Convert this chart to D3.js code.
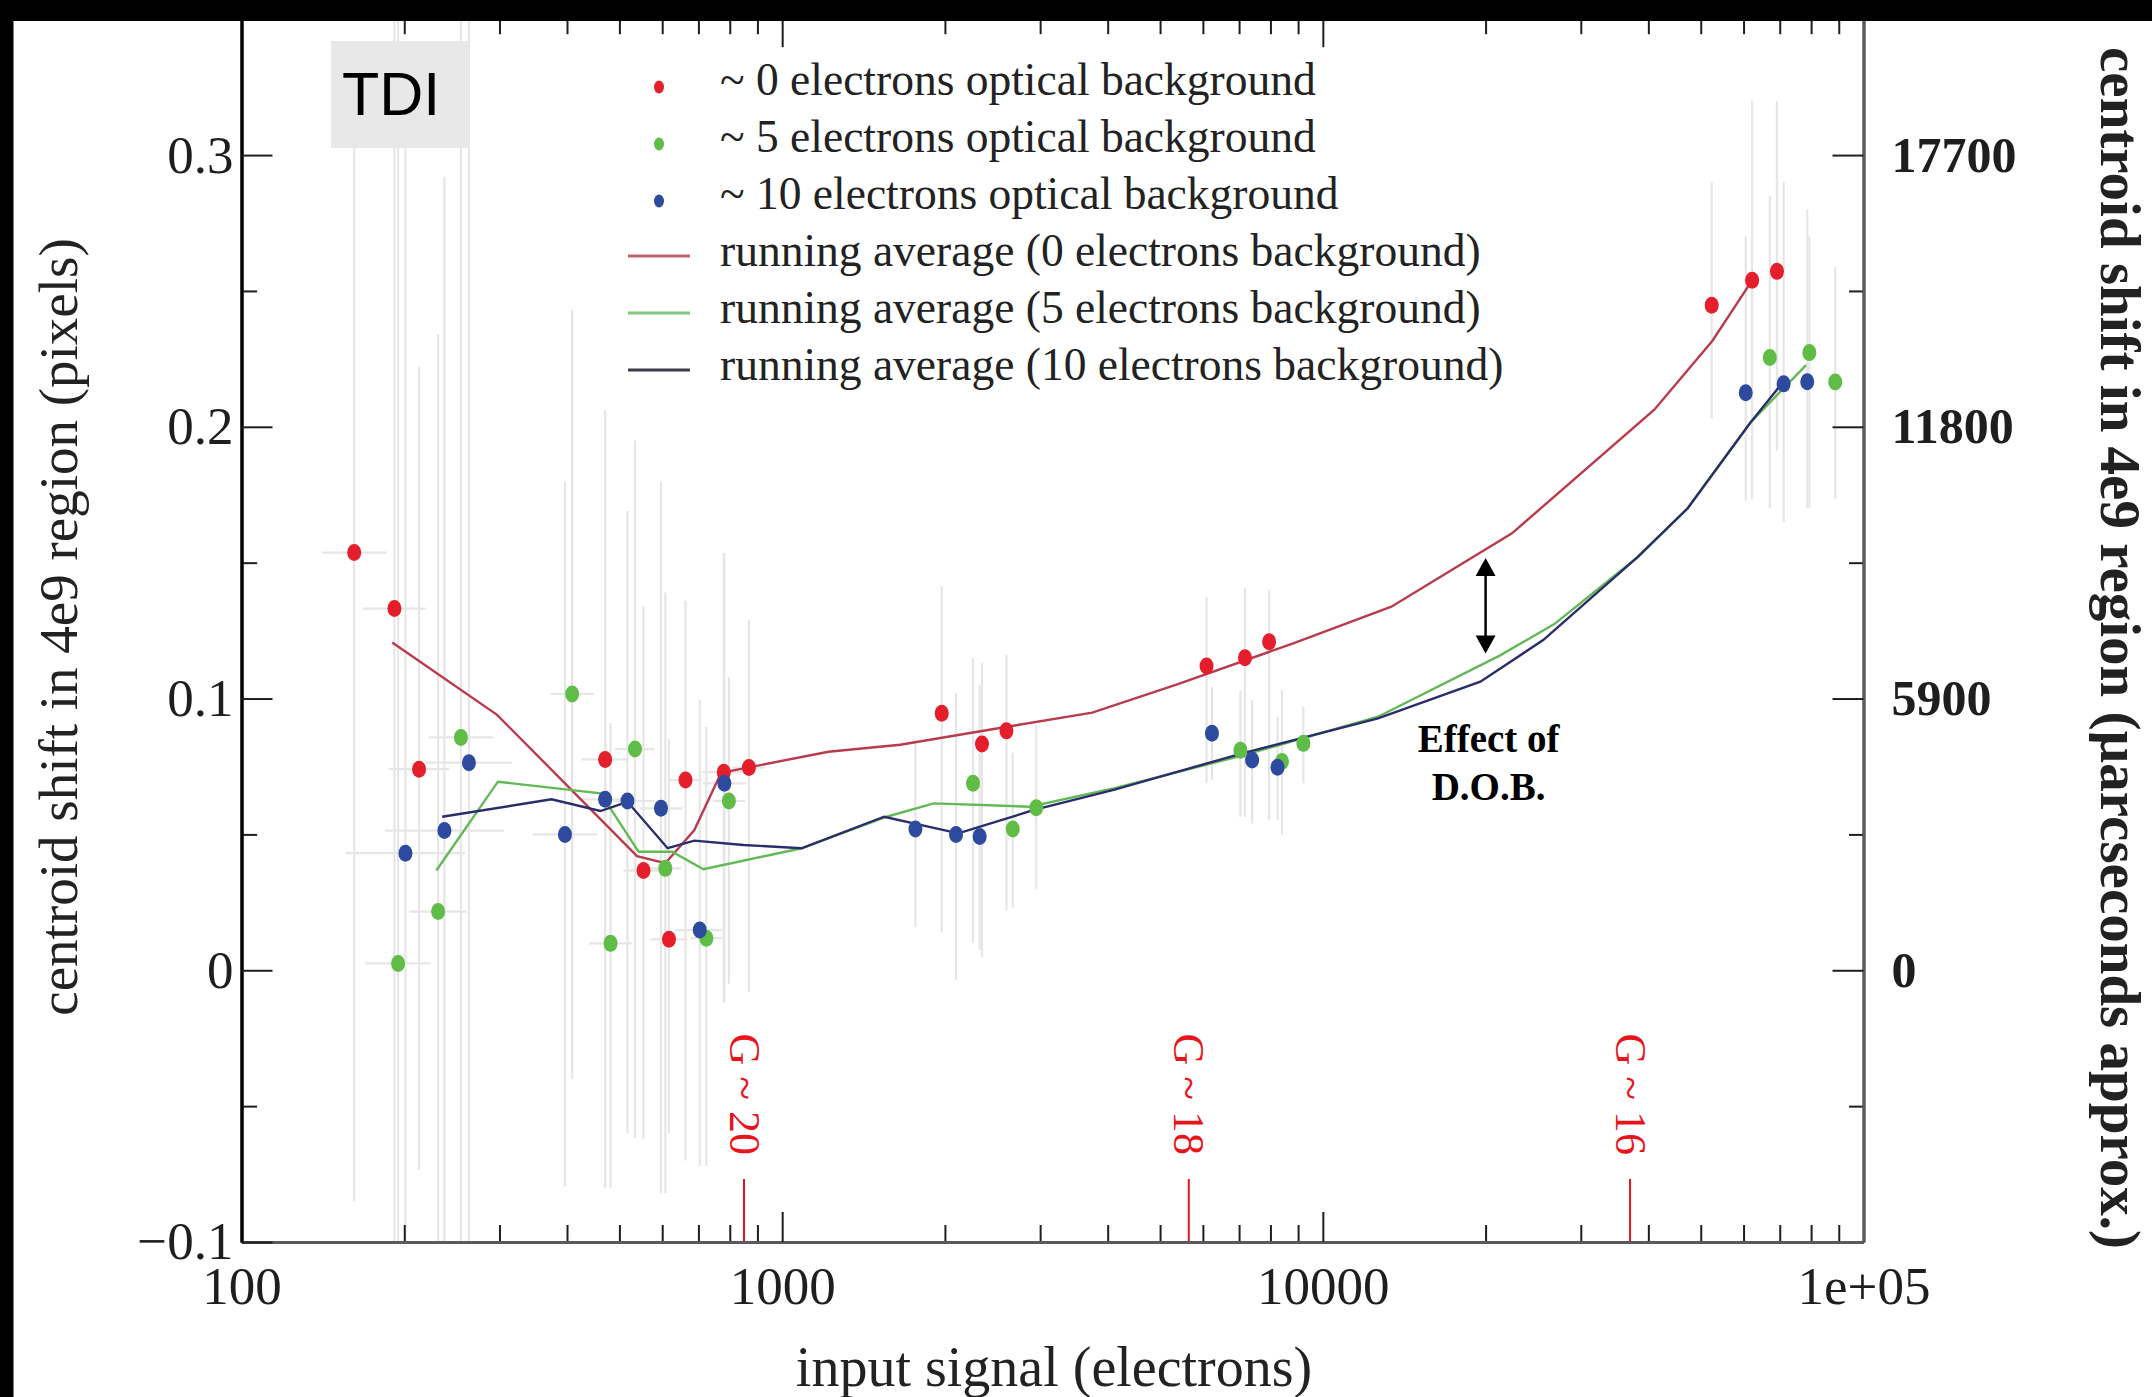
<!DOCTYPE html>
<html>
<head>
<meta charset="utf-8">
<script src="https://cdn.jsdelivr.net/npm/d3@7"></script>
<style>
  html, body { margin: 0; padding: 0; background: #fff; }
  svg { display: block; }
</style>
</head>
<body>
<script>
// each point: [input signal (e-), centroid shift (px), error low, error high, x error (dex)]
var bg0Points = [
  [161.6, 0.1537, -0.085, 0.33, 0.06], [191.8, 0.1331, -0.11, 0.36, 0.058],
  [213, 0.074, -0.0735, 0.222, 0.056], [470.5, 0.0776, -0.08, 0.206, 0.044],
  [554, 0.0367, -0.062, 0.134, 0.037], [617.5, 0.0114, -0.06, 0.085, 0.034],
  [662.6, 0.070, -0.07, 0.136, 0.03], [780, 0.0729, -0.012, 0.1535, 0.04],
  [868, 0.0746, -0.008, 0.129, 0.03], [1973, 0.0946, 0.0142, 0.1412, 0],
  [2342, 0.0833, 0.005, 0.113, 0], [2599, 0.0881, 0.022, 0.116, 0],
  [6094, 0.112, 0.0688, 0.1375, 0], [7178, 0.115, 0.0565, 0.1407, 0],
  [7955, 0.1209, 0.0553, 0.140, 0], [52390, 0.2447, 0.203, 0.29, 0],
  [62230, 0.2539, 0.1734, 0.32, 0], [69180, 0.2572, 0.191, 0.32, 0]
];
var bg5Points = [
  [194.8, 0.0025, -0.11, 0.36, 0.06], [231, 0.0216, -0.11, 0.234, 0.053],
  [254.6, 0.0857, -0.11, 0.36, 0.06], [408.8, 0.1017, -0.04, 0.243, 0.04],
  [481.5, 0.0099, -0.08, 0.091, 0.04], [534.3, 0.0814, -0.0617, 0.195, 0.037],
  [608, 0.0375, -0.082, 0.139, 0.03], [724, 0.0118, -0.072, 0.0895, 0.03],
  [797, 0.0623, -0.005, 0.108, 0.03], [2254, 0.0688, 0.01, 0.115, 0],
  [2670, 0.052, 0.023, 0.08, 0], [2951, 0.0598, 0.03, 0.09, 0],
  [7040, 0.081, 0.0565, 0.103, 0], [8403, 0.0768, 0.05, 0.103, 0],
  [9205, 0.0835, 0.0688, 0.097, 0], [67100, 0.2255, 0.170, 0.285, 0],
  [79400, 0.2273, 0.170, 0.270, 0], [88660, 0.2165, 0.1734, 0.2588, 0]
];
var bg10Points = [
  [201, 0.0431, -0.11, 0.34, 0.11], [237.3, 0.0514, -0.11, 0.292, 0.11],
  [263.4, 0.0764, -0.11, 0.36, 0.08], [396.5, 0.050, -0.0796, 0.18, 0.06],
  [470.5, 0.0629, -0.08, 0.206, 0.05], [517.4, 0.0623, -0.06, 0.169, 0.05],
  [596.8, 0.0596, -0.082, 0.18, 0.04], [704, 0.0148, -0.072, 0.0995, 0.045],
  [781.8, 0.0688, -0.012, 0.1535, 0.04], [1764, 0.052, 0.016, 0.085, 0],
  [2097, 0.050, -0.0036, 0.102, 0], [2319, 0.0492, 0.0075, 0.105, 0],
  [6236, 0.0872, 0.07, 0.1044, 0], [7400, 0.0774, 0.054, 0.0995, 0],
  [8246, 0.0747, 0.0553, 0.0933, 0], [60560, 0.2125, 0.173, 0.27, 0],
  [71170, 0.2158, 0.165, 0.29, 0], [78700, 0.2166, 0.17, 0.28, 0]
];

// running averages: [input signal, centroid shift]
var bg0Avg = [
  [190, 0.1206], [297, 0.094], [539, 0.042], [608, 0.0394], [688, 0.0516],
  [771, 0.0727], [1218, 0.0804], [1653, 0.083], [2608, 0.0896], [3746, 0.0948],
  [5378, 0.1052], [8815, 0.1203], [13390, 0.1338], [22380, 0.1608],
  [41030, 0.2063], [52560, 0.2317], [62230, 0.2539]
];
var bg5Avg = [
  [229.3, 0.0367], [298, 0.0694], [461.5, 0.0651], [542.7, 0.0436], [626, 0.0436],
  [715, 0.0372], [1086, 0.0449], [1560, 0.0565], [1907, 0.0614], [2871, 0.0602],
  [4120, 0.067], [7150, 0.0792], [12650, 0.0933], [21280, 0.1159], [26800, 0.1274],
  [38200, 0.152], [47300, 0.170], [61700, 0.2014], [78300, 0.2227]
];
var bg10Avg = [
  [235, 0.0565], [374.5, 0.0629], [461, 0.0586], [517.6, 0.062], [614, 0.0449],
  [688, 0.0477], [848, 0.0461], [1086, 0.0449], [1544, 0.0565], [2117, 0.0504],
  [2924, 0.059], [4120, 0.0665], [7150, 0.080], [12650, 0.0927], [19560, 0.1062],
  [25560, 0.1215], [38200, 0.152], [47300, 0.170], [61700, 0.2014], [71000, 0.2165]
];

var xTicks = [100, 1000, 10000, 100000];
var xTickLabels = ["100", "1000", "10000", "1e+05"];
var xMinorTicks = [200, 300, 400, 500, 600, 700, 800, 900,
                   2000, 3000, 4000, 5000, 6000, 7000, 8000, 9000,
                   20000, 30000, 40000, 50000, 60000, 70000, 80000, 90000];
var yTicks = [-0.1, 0, 0.1, 0.2, 0.3];
var yTickLabels = ["\u22120.1", "0", "0.1", "0.2", "0.3"];
var yMinorTicks = [-0.05, 0.05, 0.15, 0.25];
var rightTicks = [0, 5900, 11800, 17700];
var rightTickLabels = ["0", "5900", "11800", "17700"];
var rightMinorTicks = [-2950, 2950, 8850, 14750];

var gSignals = [850, 5650, 37000];
var gLabels = ["G ~ 20", "G ~ 18", "G ~ 16"];

var legendLabels = [
  "~ 0 electrons optical background",
  "~ 5 electrons optical background",
  "~ 10 electrons optical background",
  "running average (0 electrons background)",
  "running average (5 electrons background)",
  "running average (10 electrons background)"
];

// ==============================================================================

var width = 2152, height = 1397;
var serif = "'Liberation Serif', 'Times New Roman', serif";
var pointColors = ["#e41f2b", "#5fbd47", "#2d4a9e"];
var lineColors = ["#b83b4e", "#62b956", "#2b2d6b"];
var legendLineColors = ["#c4606e", "#80c67c", "#3b3b4a"];

var x = d3.scaleLog().domain([100, 1e5]).range([241.5, 1863.5]);
var y = d3.scaleLinear().domain([-0.1, 0.35]).range([1242, 19.2]);
var yR = d3.scaleLinear().domain([-5900, 20650]).range([1242, 19.2]);

var svg = d3.select("body").append("svg")
    .attr("width", width)
    .attr("height", height);

svg.append("rect").attr("width", width).attr("height", height).attr("fill", "#fff");

svg.append("clipPath").attr("id", "plot")
  .append("rect")
    .attr("x", x.range()[0]).attr("y", y.range()[1])
    .attr("width", x.range()[1] - x.range()[0])
    .attr("height", y.range()[0] - y.range()[1]);

var plot = svg.append("g").attr("clip-path", "url(#plot)");

var series = [bg0Points, bg5Points, bg10Points];
var averages = [bg0Avg, bg5Avg, bg10Avg];

// error bars
series.forEach(pts => {
  plot.append("g").selectAll("line.v")
      .data(pts)
    .enter().append("line")
      .attr("x1", d => x(d[0])).attr("x2", d => x(d[0]))
      .attr("y1", d => y(d[2])).attr("y2", d => y(d[3]))
      .attr("stroke", "#e6e6e6").attr("stroke-width", 2.2);
  plot.append("g").selectAll("line.h")
      .data(pts.filter(d => d[4] > 0))
    .enter().append("line")
      .attr("x1", d => x(d[0] / Math.pow(10, d[4])))
      .attr("x2", d => x(d[0] * Math.pow(10, d[4])))
      .attr("y1", d => y(d[1])).attr("y2", d => y(d[1]))
      .attr("stroke", "#e6e6e6").attr("stroke-width", 2.2);
});

// running averages
var line = d3.line().x(d => x(d[0])).y(d => y(d[1]));
averages.forEach((avg, i) => {
  plot.append("path")
      .datum(avg)
      .attr("d", line)
      .attr("fill", "none")
      .attr("stroke", lineColors[i])
      .attr("stroke-width", 2.4);
});

// points
series.forEach((pts, i) => {
  plot.append("g").selectAll("ellipse")
      .data(pts)
    .enter().append("ellipse")
      .attr("cx", d => x(d[0]))
      .attr("cy", d => y(d[1]))
      .attr("rx", 7).attr("ry", 8.5)
      .attr("fill", pointColors[i]);
});

// G magnitude markers
gSignals.forEach((s, i) => {
  svg.append("line")
      .attr("x1", x(s)).attr("x2", x(s))
      .attr("y1", y(-0.1)).attr("y2", y(-0.0768))
      .attr("stroke", "#e8141c").attr("stroke-width", 2);
  svg.append("text")
      .attr("transform", "translate(" + x(s) + "," + y(-0.0456) + ") rotate(90)")
      .attr("text-anchor", "middle")
      .attr("dominant-baseline", "central")
      .attr("font-family", serif)
      .attr("font-size", 44)
      .attr("fill", "#e8141c")
      .text(gLabels[i]);
});

// effect of D.O.B. annotation
var ax = x(20000);
svg.append("line")
    .attr("x1", ax).attr("x2", ax)
    .attr("y1", y(0.149)).attr("y2", y(0.119))
    .attr("stroke", "#000").attr("stroke-width", 2.5);
svg.append("path")
    .attr("d", "M" + ax + "," + y(0.1517) + "l-10,18h20z")
    .attr("fill", "#000");
svg.append("path")
    .attr("d", "M" + ax + "," + y(0.1166) + "l-10,-18h20z")
    .attr("fill", "#000");
["Effect of", "D.O.B."].forEach((t, i) => {
  svg.append("text")
      .attr("x", ax + 3)
      .attr("y", y(0.085) + 13 + i * 48)
      .attr("text-anchor", "middle")
      .attr("font-family", serif)
      .attr("font-weight", "bold")
      .attr("font-size", 39)
      .attr("fill", "#000")
      .text(t);
});

// axes
function styleAxis(g, domainColor, domainWidth) {
  g.attr("font-family", serif).attr("color", "#1e1e1e");
  g.select(".domain").attr("stroke", domainColor).attr("stroke-width", domainWidth);
  g.selectAll(".tick line").attr("stroke-width", 2);
}

svg.append("g")
    .attr("transform", "translate(0," + y.range()[1] + ")")
    .call(d3.axisTop(x).tickValues(xTicks).tickSize(-28).tickSizeOuter(0).tickFormat(""))
    .call(g => styleAxis(g, "#333", 2.5));
svg.append("g")
    .attr("transform", "translate(0," + y.range()[1] + ")")
    .call(d3.axisTop(x).tickValues(xMinorTicks).tickSize(-15).tickSizeOuter(0).tickFormat(""))
    .call(g => styleAxis(g, "#333", 2.5));

svg.append("g")
    .attr("transform", "translate(0," + y.range()[0] + ")")
    .call(d3.axisBottom(x).tickValues(xMinorTicks).tickSize(-17).tickSizeOuter(0).tickFormat(""))
    .call(g => styleAxis(g, "#5a5a5a", 3));
svg.append("g")
    .attr("transform", "translate(0," + y.range()[0] + ")")
    .call(d3.axisBottom(x).tickValues(xTicks).tickSize(-30).tickSizeOuter(0).tickPadding(24)
      .tickFormat((d, i) => xTickLabels[i]))
    .call(g => styleAxis(g, "#5a5a5a", 3))
    .attr("font-size", 53);

svg.append("g")
    .attr("transform", "translate(" + x.range()[0] + ",0)")
    .call(d3.axisLeft(y).tickValues(yMinorTicks).tickSize(-15.6).tickSizeOuter(0).tickFormat(""))
    .call(g => styleAxis(g, "#000", 3));
svg.append("g")
    .attr("transform", "translate(" + x.range()[0] + ",0)")
    .call(d3.axisLeft(y).tickValues(yTicks).tickSize(-31).tickSizeOuter(0).tickPadding(8)
      .tickFormat((d, i) => yTickLabels[i]))
    .call(g => styleAxis(g, "#000", 3))
    .attr("font-size", 53);

svg.append("g")
    .attr("transform", "translate(" + x.range()[1] + ",0)")
    .call(d3.axisRight(yR).tickValues(rightMinorTicks).tickSize(-14.5).tickSizeOuter(0).tickFormat(""))
    .call(g => styleAxis(g, "#5a5a5a", 3));
svg.append("g")
    .attr("transform", "translate(" + x.range()[1] + ",0)")
    .call(d3.axisRight(yR).tickValues(rightTicks).tickSize(-31).tickSizeOuter(0).tickPadding(28)
      .tickFormat((d, i) => rightTickLabels[i]))
    .call(g => styleAxis(g, "#5a5a5a", 3))
    .attr("font-size", 50)
    .attr("font-weight", "bold");

// axis titles
svg.append("text")
    .attr("x", 1054).attr("y", 1386)
    .attr("text-anchor", "middle")
    .attr("font-family", serif).attr("font-size", 56).attr("fill", "#222")
    .text("input signal (electrons)");

svg.append("text")
    .attr("transform", "translate(58,627) rotate(-90)")
    .attr("text-anchor", "middle").attr("dominant-baseline", "central")
    .attr("font-family", serif).attr("font-size", 55).attr("fill", "#222")
    .text("centroid shift in 4e9 region (pixels)");

svg.append("text")
    .attr("transform", "translate(2120,648) rotate(90)")
    .attr("text-anchor", "middle").attr("dominant-baseline", "central")
    .attr("font-family", serif).attr("font-size", 57).attr("font-weight", "bold").attr("fill", "#222")
    .text("centroid shift in 4e9 region (\u00b5arcseconds approx.)");

// legend
var legend = svg.append("g").attr("transform", "translate(0,95)");
legendLabels.forEach((label, i) => {
  var row = legend.append("g").attr("transform", "translate(0," + i * 57 + ")");
  if (i < 3) {
    row.append("ellipse").attr("cx", 659).attr("cy", -8)
        .attr("rx", 5).attr("ry", 6.5).attr("fill", pointColors[i]);
  } else {
    row.append("line").attr("x1", 628).attr("x2", 690)
        .attr("y1", -10).attr("y2", -10)
        .attr("stroke", legendLineColors[i - 3]).attr("stroke-width", 3);
  }
  row.append("text")
      .attr("x", 720).attr("y", 0)
      .attr("font-family", serif).attr("font-size", 45.5).attr("fill", "#222")
      .text(label);
});

// TDI tag
svg.append("rect")
    .attr("x", 331).attr("y", 41).attr("width", 138).attr("height", 107)
    .attr("fill", "#e8e8e8");
svg.append("text")
    .attr("x", 342).attr("y", 115)
    .attr("font-family", "'Liberation Sans', Arial, sans-serif")
    .attr("font-size", 61).attr("fill", "#000")
    .text("TDI");

// black edges of the screenshot
svg.append("rect").attr("x", 0).attr("y", 0).attr("width", width).attr("height", 21).attr("fill", "#000");
svg.append("rect").attr("x", 0).attr("y", 0).attr("width", 13.5).attr("height", height).attr("fill", "#000");
</script>
</body>
</html>
